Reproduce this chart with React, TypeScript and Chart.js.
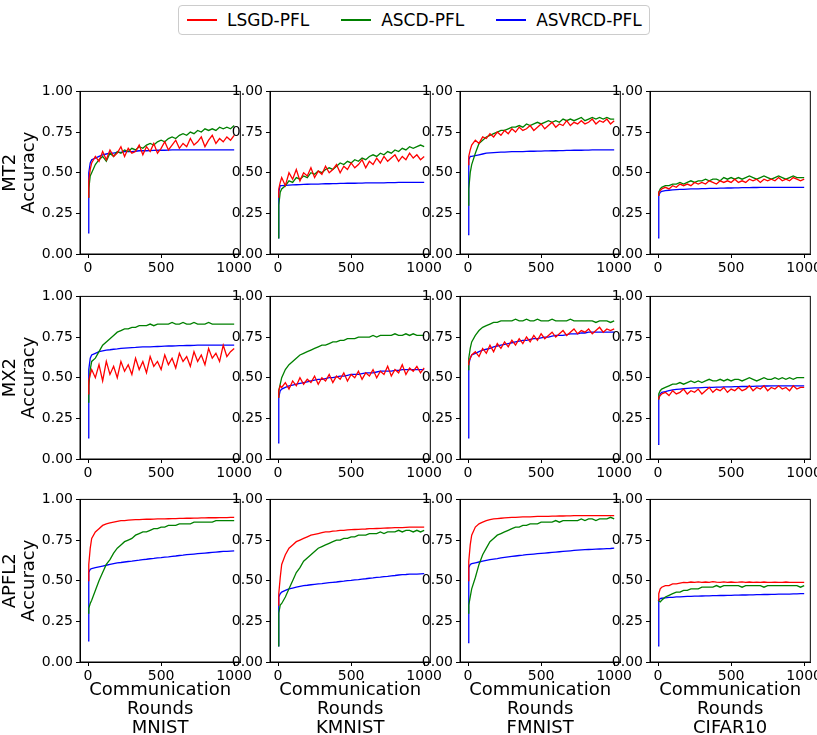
import { useEffect, useRef } from 'react'
import { Chart, registerables } from 'chart.js'

Chart.register(...registerables)

const rounds = [0, 5, 15, 25, 50, 75, 100, 125, 150, 175, 200, 225, 250, 275, 300, 325, 350, 375, 400, 425, 450, 475, 500, 525, 550, 575, 600, 625, 650, 675, 700, 725, 750, 775, 800, 825, 850, 875, 900, 925, 950, 975, 1000]
const datasetNames = ['MNIST', 'KMNIST', 'FMNIST', 'CIFAR10']
const modelNames = ['MT2', 'MX2', 'APFL2']
const seriesNames = ['LSGD-PFL', 'ASCD-PFL', 'ASVRCD-PFL']
const seriesColors = ['#ff0000', '#008000', '#0000ff']

// MT2
const mt2MnistRed = [0.35,0.45,0.52,0.56,0.6,0.57,0.63,0.58,0.64,0.6,0.62,0.66,0.6,0.65,0.62,0.63,0.67,0.61,0.66,0.63,0.68,0.62,0.65,0.69,0.64,0.67,0.7,0.65,0.68,0.66,0.71,0.67,0.69,0.72,0.66,0.7,0.73,0.68,0.71,0.69,0.72,0.7,0.73]
const mt2MnistGreen = [0.35,0.4,0.48,0.5,0.55,0.58,0.6,0.57,0.62,0.6,0.63,0.62,0.64,0.63,0.65,0.64,0.66,0.65,0.67,0.68,0.67,0.69,0.7,0.69,0.71,0.72,0.71,0.73,0.74,0.73,0.75,0.74,0.76,0.75,0.77,0.76,0.77,0.76,0.78,0.77,0.78,0.77,0.79]
const mt2MnistBlue = [0.13,0.5,0.56,0.58,0.59,0.6,0.61,0.615,0.62,0.62,0.625,0.625,0.63,0.63,0.63,0.632,0.635,0.635,0.635,0.636,0.637,0.638,0.638,0.638,0.639,0.64,0.64,0.64,0.64,0.64,0.64,0.64,0.64,0.64,0.64,0.64,0.64,0.64,0.64,0.64,0.64,0.64,0.64]
const mt2KmnistRed = [0.35,0.4,0.44,0.47,0.42,0.5,0.46,0.52,0.45,0.5,0.48,0.53,0.47,0.51,0.49,0.54,0.5,0.52,0.55,0.5,0.54,0.52,0.56,0.53,0.55,0.58,0.53,0.57,0.55,0.59,0.56,0.6,0.57,0.59,0.61,0.57,0.6,0.58,0.62,0.59,0.61,0.58,0.6]
const mt2KmnistGreen = [0.1,0.3,0.38,0.4,0.42,0.45,0.44,0.47,0.46,0.48,0.47,0.5,0.49,0.51,0.5,0.52,0.53,0.52,0.54,0.56,0.55,0.57,0.56,0.58,0.57,0.59,0.58,0.6,0.61,0.6,0.62,0.61,0.63,0.62,0.64,0.63,0.65,0.64,0.66,0.65,0.66,0.67,0.66]
const mt2KmnistBlue = [0.1,0.38,0.42,0.42,0.422,0.424,0.425,0.426,0.427,0.428,0.429,0.43,0.43,0.43,0.431,0.432,0.432,0.433,0.433,0.434,0.434,0.435,0.435,0.435,0.436,0.436,0.437,0.437,0.437,0.438,0.438,0.438,0.439,0.439,0.439,0.44,0.44,0.44,0.44,0.44,0.44,0.44,0.44]
const mt2FmnistRed = [0.55,0.6,0.64,0.67,0.7,0.68,0.72,0.71,0.74,0.72,0.75,0.73,0.76,0.74,0.77,0.75,0.78,0.76,0.77,0.79,0.76,0.78,0.8,0.77,0.79,0.81,0.78,0.8,0.79,0.82,0.79,0.81,0.8,0.82,0.8,0.81,0.83,0.8,0.82,0.81,0.83,0.8,0.82]
const mt2FmnistGreen = [0.3,0.4,0.5,0.55,0.62,0.68,0.7,0.72,0.73,0.74,0.75,0.76,0.76,0.77,0.78,0.78,0.79,0.78,0.8,0.79,0.8,0.81,0.8,0.81,0.82,0.81,0.82,0.81,0.83,0.82,0.83,0.82,0.83,0.84,0.82,0.83,0.84,0.83,0.84,0.83,0.84,0.83,0.83]
const mt2FmnistBlue = [0.12,0.58,0.6,0.6,0.605,0.61,0.615,0.62,0.622,0.624,0.625,0.626,0.627,0.628,0.629,0.63,0.63,0.63,0.631,0.632,0.632,0.633,0.633,0.634,0.634,0.635,0.635,0.636,0.636,0.637,0.637,0.638,0.638,0.638,0.639,0.639,0.64,0.64,0.64,0.64,0.64,0.64,0.64]
const mt2CifarRed = [0.36,0.38,0.39,0.4,0.41,0.4,0.42,0.41,0.43,0.42,0.43,0.42,0.44,0.43,0.44,0.43,0.45,0.44,0.43,0.45,0.44,0.45,0.44,0.46,0.44,0.45,0.44,0.46,0.45,0.46,0.44,0.46,0.45,0.46,0.45,0.47,0.45,0.46,0.45,0.47,0.46,0.45,0.46]
const mt2CifarGreen = [0.36,0.38,0.4,0.41,0.42,0.42,0.43,0.43,0.44,0.43,0.44,0.45,0.44,0.45,0.45,0.46,0.45,0.46,0.46,0.45,0.47,0.46,0.47,0.46,0.47,0.46,0.47,0.48,0.47,0.46,0.47,0.48,0.47,0.46,0.47,0.48,0.47,0.46,0.47,0.48,0.47,0.47,0.47]
const mt2CifarBlue = [0.1,0.36,0.38,0.385,0.39,0.392,0.394,0.396,0.397,0.398,0.399,0.4,0.4,0.401,0.402,0.402,0.403,0.404,0.404,0.405,0.405,0.406,0.406,0.407,0.407,0.408,0.408,0.408,0.409,0.409,0.41,0.41,0.41,0.41,0.41,0.41,0.41,0.41,0.41,0.41,0.41,0.41,0.41]

// MX2
const mx2MnistRed = [0.4,0.48,0.52,0.55,0.5,0.58,0.48,0.6,0.52,0.57,0.5,0.6,0.54,0.58,0.52,0.62,0.55,0.6,0.53,0.63,0.57,0.6,0.55,0.64,0.58,0.62,0.56,0.65,0.6,0.63,0.57,0.66,0.6,0.64,0.58,0.68,0.62,0.65,0.6,0.7,0.63,0.66,0.68]
const mx2MnistGreen = [0.35,0.45,0.55,0.6,0.62,0.66,0.7,0.72,0.74,0.76,0.78,0.79,0.8,0.8,0.81,0.81,0.82,0.82,0.82,0.83,0.82,0.83,0.83,0.83,0.83,0.84,0.83,0.83,0.84,0.83,0.83,0.84,0.83,0.83,0.83,0.84,0.83,0.83,0.83,0.83,0.83,0.83,0.83]
const mx2MnistBlue = [0.13,0.55,0.62,0.64,0.65,0.66,0.665,0.67,0.672,0.675,0.677,0.68,0.682,0.684,0.685,0.686,0.688,0.689,0.69,0.69,0.691,0.692,0.693,0.694,0.695,0.695,0.696,0.697,0.697,0.698,0.698,0.699,0.7,0.7,0.7,0.7,0.7,0.7,0.7,0.7,0.7,0.7,0.7]
const mx2KmnistRed = [0.38,0.42,0.45,0.44,0.47,0.43,0.48,0.45,0.5,0.46,0.49,0.47,0.51,0.46,0.5,0.48,0.52,0.47,0.51,0.49,0.53,0.48,0.52,0.5,0.54,0.49,0.53,0.51,0.55,0.5,0.54,0.52,0.57,0.51,0.55,0.53,0.58,0.52,0.56,0.54,0.57,0.53,0.56]
const mx2KmnistGreen = [0.38,0.42,0.46,0.5,0.55,0.58,0.6,0.62,0.64,0.65,0.66,0.67,0.68,0.69,0.7,0.7,0.71,0.72,0.72,0.73,0.73,0.74,0.74,0.74,0.75,0.75,0.75,0.75,0.76,0.75,0.76,0.76,0.76,0.76,0.77,0.76,0.76,0.77,0.76,0.77,0.76,0.76,0.76]
const mx2KmnistBlue = [0.1,0.38,0.42,0.43,0.44,0.45,0.455,0.46,0.465,0.47,0.475,0.48,0.485,0.49,0.49,0.495,0.5,0.5,0.505,0.51,0.51,0.515,0.52,0.52,0.52,0.525,0.53,0.53,0.53,0.535,0.54,0.54,0.54,0.54,0.545,0.545,0.55,0.55,0.55,0.55,0.55,0.55,0.55]
const mx2FmnistRed = [0.58,0.6,0.62,0.64,0.66,0.63,0.68,0.65,0.7,0.66,0.71,0.68,0.72,0.69,0.73,0.7,0.74,0.71,0.75,0.72,0.76,0.73,0.77,0.74,0.76,0.78,0.75,0.77,0.79,0.76,0.78,0.8,0.77,0.79,0.78,0.8,0.77,0.79,0.81,0.78,0.8,0.79,0.8]
const mx2FmnistGreen = [0.55,0.62,0.68,0.72,0.76,0.79,0.81,0.82,0.83,0.84,0.84,0.85,0.85,0.85,0.85,0.86,0.85,0.85,0.86,0.85,0.85,0.86,0.85,0.85,0.85,0.86,0.85,0.85,0.85,0.85,0.86,0.85,0.85,0.85,0.85,0.85,0.85,0.84,0.85,0.85,0.85,0.84,0.85]
const mx2FmnistBlue = [0.13,0.58,0.62,0.64,0.65,0.66,0.67,0.675,0.68,0.69,0.695,0.7,0.705,0.71,0.715,0.72,0.725,0.73,0.73,0.735,0.74,0.74,0.745,0.75,0.75,0.755,0.76,0.76,0.76,0.765,0.77,0.77,0.77,0.775,0.775,0.78,0.78,0.78,0.78,0.78,0.78,0.78,0.78]
const mx2CifarRed = [0.37,0.38,0.39,0.4,0.41,0.39,0.42,0.4,0.41,0.43,0.4,0.42,0.41,0.43,0.4,0.42,0.44,0.41,0.43,0.42,0.44,0.41,0.43,0.42,0.44,0.42,0.43,0.45,0.42,0.44,0.43,0.45,0.42,0.44,0.43,0.45,0.43,0.44,0.42,0.45,0.43,0.44,0.44]
const mx2CifarGreen = [0.37,0.4,0.42,0.43,0.44,0.45,0.46,0.46,0.47,0.46,0.47,0.48,0.47,0.48,0.47,0.48,0.49,0.48,0.48,0.49,0.48,0.49,0.48,0.49,0.49,0.48,0.49,0.5,0.49,0.48,0.49,0.5,0.49,0.49,0.5,0.49,0.5,0.49,0.5,0.49,0.5,0.5,0.5]
const mx2CifarBlue = [0.09,0.37,0.4,0.41,0.415,0.42,0.425,0.428,0.43,0.432,0.434,0.436,0.437,0.438,0.439,0.44,0.44,0.441,0.442,0.442,0.443,0.444,0.444,0.445,0.445,0.446,0.446,0.447,0.447,0.448,0.448,0.449,0.449,0.45,0.45,0.45,0.45,0.45,0.45,0.45,0.45,0.45,0.45]

// APFL2
const apflMnistRed = [0.5,0.6,0.7,0.76,0.8,0.82,0.84,0.85,0.855,0.86,0.865,0.87,0.87,0.872,0.874,0.875,0.876,0.877,0.878,0.878,0.879,0.88,0.88,0.88,0.881,0.882,0.882,0.883,0.883,0.884,0.884,0.885,0.885,0.886,0.886,0.887,0.887,0.887,0.888,0.888,0.888,0.889,0.889]
const apflMnistGreen = [0.3,0.33,0.36,0.38,0.44,0.5,0.55,0.6,0.63,0.67,0.7,0.72,0.74,0.75,0.76,0.78,0.79,0.8,0.8,0.81,0.82,0.82,0.83,0.83,0.84,0.84,0.84,0.85,0.85,0.85,0.85,0.86,0.86,0.86,0.86,0.86,0.86,0.87,0.87,0.87,0.87,0.87,0.87]
const apflMnistBlue = [0.13,0.55,0.57,0.575,0.58,0.585,0.59,0.595,0.6,0.605,0.61,0.612,0.615,0.618,0.62,0.623,0.626,0.63,0.632,0.635,0.637,0.64,0.642,0.645,0.647,0.65,0.652,0.655,0.657,0.66,0.662,0.664,0.666,0.668,0.67,0.672,0.674,0.676,0.678,0.68,0.68,0.682,0.684]
const apflKmnistRed = [0.35,0.42,0.52,0.6,0.66,0.7,0.72,0.74,0.75,0.76,0.77,0.78,0.785,0.79,0.795,0.8,0.8,0.805,0.807,0.81,0.81,0.812,0.814,0.815,0.816,0.817,0.818,0.82,0.82,0.821,0.822,0.823,0.824,0.825,0.826,0.827,0.827,0.828,0.829,0.83,0.83,0.83,0.83]
const apflKmnistGreen = [0.1,0.3,0.35,0.36,0.4,0.45,0.5,0.55,0.58,0.62,0.64,0.66,0.68,0.7,0.71,0.72,0.73,0.74,0.75,0.75,0.76,0.76,0.77,0.77,0.78,0.78,0.78,0.79,0.79,0.79,0.8,0.79,0.8,0.8,0.8,0.81,0.8,0.81,0.81,0.8,0.81,0.8,0.81]
const apflKmnistBlue = [0.1,0.4,0.42,0.43,0.44,0.45,0.455,0.46,0.465,0.47,0.472,0.475,0.478,0.48,0.482,0.485,0.488,0.49,0.492,0.495,0.497,0.5,0.502,0.505,0.507,0.51,0.512,0.515,0.517,0.52,0.522,0.525,0.527,0.53,0.532,0.535,0.537,0.538,0.54,0.54,0.541,0.542,0.543]
const apflFmnistRed = [0.5,0.62,0.72,0.78,0.83,0.85,0.86,0.87,0.875,0.88,0.882,0.884,0.886,0.888,0.889,0.89,0.891,0.892,0.893,0.893,0.894,0.895,0.895,0.896,0.896,0.897,0.897,0.898,0.898,0.899,0.899,0.9,0.9,0.9,0.9,0.9,0.9,0.9,0.9,0.9,0.9,0.9,0.9]
const apflFmnistGreen = [0.3,0.35,0.4,0.45,0.52,0.6,0.66,0.7,0.74,0.76,0.78,0.79,0.8,0.81,0.82,0.83,0.83,0.84,0.84,0.85,0.85,0.85,0.86,0.86,0.86,0.86,0.87,0.86,0.87,0.87,0.87,0.87,0.87,0.88,0.87,0.88,0.88,0.87,0.88,0.88,0.88,0.89,0.88]
const apflFmnistBlue = [0.12,0.58,0.6,0.605,0.61,0.615,0.62,0.625,0.63,0.633,0.636,0.64,0.643,0.646,0.649,0.652,0.655,0.657,0.66,0.662,0.664,0.666,0.668,0.67,0.672,0.674,0.676,0.678,0.68,0.682,0.684,0.686,0.688,0.69,0.691,0.692,0.693,0.694,0.695,0.696,0.697,0.698,0.7]
const apflCifarRed = [0.38,0.42,0.45,0.46,0.47,0.47,0.48,0.48,0.485,0.49,0.488,0.492,0.49,0.493,0.49,0.492,0.49,0.494,0.491,0.49,0.493,0.49,0.492,0.49,0.491,0.493,0.49,0.492,0.49,0.491,0.49,0.492,0.49,0.49,0.491,0.49,0.49,0.492,0.49,0.49,0.49,0.49,0.49]
const apflCifarGreen = [0.38,0.38,0.37,0.38,0.4,0.41,0.42,0.43,0.43,0.44,0.44,0.45,0.45,0.45,0.46,0.46,0.46,0.46,0.47,0.46,0.47,0.47,0.47,0.47,0.47,0.46,0.47,0.47,0.47,0.47,0.47,0.46,0.47,0.47,0.47,0.47,0.47,0.47,0.47,0.47,0.47,0.46,0.47]
const apflCifarBlue = [0.1,0.38,0.39,0.392,0.395,0.397,0.398,0.4,0.401,0.402,0.403,0.404,0.405,0.405,0.406,0.407,0.407,0.408,0.408,0.409,0.409,0.41,0.41,0.411,0.411,0.412,0.412,0.413,0.413,0.414,0.414,0.415,0.415,0.416,0.416,0.417,0.417,0.418,0.418,0.419,0.419,0.42,0.42]

const panels = [
  [[mt2MnistRed, mt2MnistGreen, mt2MnistBlue], [mt2KmnistRed, mt2KmnistGreen, mt2KmnistBlue], [mt2FmnistRed, mt2FmnistGreen, mt2FmnistBlue], [mt2CifarRed, mt2CifarGreen, mt2CifarBlue]],
  [[mx2MnistRed, mx2MnistGreen, mx2MnistBlue], [mx2KmnistRed, mx2KmnistGreen, mx2KmnistBlue], [mx2FmnistRed, mx2FmnistGreen, mx2FmnistBlue], [mx2CifarRed, mx2CifarGreen, mx2CifarBlue]],
  [[apflMnistRed, apflMnistGreen, apflMnistBlue], [apflKmnistRed, apflKmnistGreen, apflKmnistBlue], [apflFmnistRed, apflFmnistGreen, apflFmnistBlue], [apflCifarRed, apflCifarGreen, apflCifarBlue]],
]

const FONT = 'DejaVu Sans'
const plotLefts = [80, 270, 460, 650]
const plotTops = [90, 295, 498]
const PLOT_W = 158
const PLOT_H = 164

const boxPlugin = {
  id: 'box',
  afterDraw(chart: Chart) {
    const { ctx, chartArea: a } = chart
    ctx.save()
    ctx.strokeStyle = '#000'
    ctx.lineWidth = 1
    ctx.strokeRect(a.left, a.top, a.right - a.left, a.bottom - a.top)
    ctx.restore()
  },
}

function Panel({ row, col }: { row: number; col: number }) {
  const canvasRef = useRef<HTMLCanvasElement>(null)
  const first = col === 0
  const last = row === 2
  const yW = first ? 80 : 45
  const xH = last ? 80 : 24
  const left = plotLefts[col] - yW
  const top = plotTops[row] - 10
  const width = yW + PLOT_W + 16
  const height = 10 + PLOT_H + xH

  useEffect(() => {
    if (!canvasRef.current) return
    const chart = new Chart(canvasRef.current, {
      type: 'line',
      data: {
        datasets: panels[row][col].map((vals, i) => ({
          label: seriesNames[i],
          data: vals.map((v, j) => ({ x: rounds[j], y: v })),
          borderColor: seriesColors[i],
          borderWidth: 1.3,
          pointRadius: 0,
          tension: 0,
        })),
      },
      options: {
        animation: false,
        responsive: false,
        layout: { padding: 0 },
        plugins: { legend: { display: false }, tooltip: { enabled: false } },
        scales: {
          x: {
            type: 'linear',
            min: -55,
            max: 1042,
            afterBuildTicks: s => { s.ticks = [0, 500, 1000].map(v => ({ value: v })) },
            afterFit: s => { s.height = xH },
            ticks: { color: '#000', font: { family: FONT, size: 14 }, maxRotation: 0, padding: 2, callback: v => String(v) },
            grid: { drawOnChartArea: false, color: '#000', tickLength: 4 },
            border: { color: '#000' },
            title: {
              display: last,
              text: ['Communication', 'Rounds', datasetNames[col]],
              color: '#000',
              font: { family: FONT, size: 18, lineHeight: 1.05 },
              padding: { top: 0 },
            },
          },
          y: {
            min: 0,
            max: 1,
            afterBuildTicks: s => { s.ticks = [0, 0.25, 0.5, 0.75, 1].map(v => ({ value: v })) },
            afterFit: s => { s.width = yW },
            ticks: { color: '#000', font: { family: FONT, size: 14 }, padding: 3, callback: v => Number(v).toFixed(2) },
            grid: { drawOnChartArea: false, color: '#000', tickLength: 4 },
            border: { color: '#000' },
            title: {
              display: first,
              text: [modelNames[row], 'Accuracy'],
              color: '#000',
              font: { family: FONT, size: 18, lineHeight: 1.1 },
              padding: 0,
            },
          },
        },
      },
      plugins: [boxPlugin],
    })
    return () => chart.destroy()
  }, [row, col])

  return (
    <canvas
      ref={canvasRef}
      width={width}
      height={height}
      style={{ position: 'absolute', left, top, width, height }}
    />
  )
}

export default function App() {
  return (
    <div style={{ position: 'absolute', left: 0, top: 0, width: 817, height: 735, background: '#fff', fontFamily: FONT }}>
      <div
        style={{
          position: 'absolute', left: 178, top: 5, width: 472, height: 30,
          border: '1px solid #ccc', borderRadius: 4, boxSizing: 'border-box',
          display: 'flex', alignItems: 'center', fontSize: 17, color: '#000',
        }}
      >
        {seriesNames.map((n, i) => (
          <div key={n} style={{ display: 'flex', alignItems: 'center', marginLeft: i === 0 ? 8 : 32 }}>
            <div style={{ width: 30, height: 2, background: seriesColors[i], marginRight: 10 }} />
            <span>{n}</span>
          </div>
        ))}
      </div>
      {modelNames.map((_, r) => datasetNames.map((__, c) => <Panel key={`${r}-${c}`} row={r} col={c} />))}
    </div>
  )
}
